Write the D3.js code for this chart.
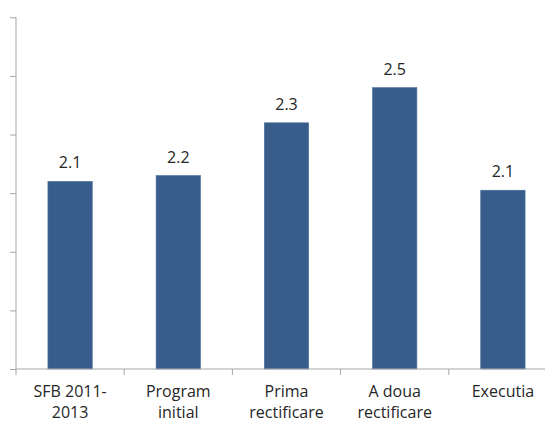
<!DOCTYPE html>
<html>
<head>
<meta charset="utf-8">
<script src="https://cdn.jsdelivr.net/npm/d3@7"></script>
<style>
  html, body { margin: 0; padding: 0; background: #fff; }
  svg { display: block; }
  text { font-family: "Open Sans", "Noto Sans", sans-serif; fill: #262626; }
</style>
</head>
<body>
<svg id="chart" width="545" height="423"></svg>
<script>
// Budget stages and their values
const categories = [
  ["SFB 2011-", "2013"],
  ["Program", "initial"],
  ["Prima", "rectificare"],
  ["A doua", "rectificare"],
  ["Executia"]
];
const values = [2.14, 2.16, 2.34, 2.46, 2.11];
const yTicks = [1.5, 1.7, 1.9, 2.1, 2.3, 2.5, 2.7];

const svg = d3.select("#chart");
const plot = { left: 16, right: 557, top: 17.3, bottom: 369 };

const x = d3.scaleBand()
  .domain(d3.range(categories.length))
  .range([plot.left, plot.right])
  .paddingInner(0.59)
  .paddingOuter(0.295);

const y = d3.scaleLinear()
  .domain([yTicks[0], yTicks[yTicks.length - 1]])
  .range([plot.bottom, plot.top]);

const axisColor = "#a6a6a6";

// Vertical axis: tick marks only, no labels
const yAxis = svg.append("g")
  .attr("transform", `translate(${plot.left},0)`)
  .call(d3.axisLeft(y).tickValues(yTicks).tickSize(6).tickFormat(""));
yAxis.selectAll("path, line").attr("stroke", axisColor);
yAxis.select(".domain").attr("d", `M0,${plot.top}V${plot.bottom}`);

// Bars
svg.append("g").selectAll("rect")
  .data(values)
  .join("rect")
  .attr("x", (d, i) => x(i))
  .attr("width", x.bandwidth())
  .attr("y", d => y(d))
  .attr("height", d => plot.bottom - y(d))
  .attr("fill", "#385d8a")
  .attr("stroke", "#4a6f9c")
  .attr("stroke-width", 0.6);

// Horizontal axis with category separators
const step = x.step();
const xAxis = svg.append("g");
xAxis.append("line")
  .attr("x1", plot.left).attr("x2", plot.right)
  .attr("y1", plot.bottom).attr("y2", plot.bottom)
  .attr("stroke", axisColor);
xAxis.selectAll("line.sep")
  .data(d3.range(categories.length + 1))
  .join("line")
  .attr("class", "sep")
  .attr("x1", i => plot.left + i * step)
  .attr("x2", i => plot.left + i * step)
  .attr("y1", plot.bottom)
  .attr("y2", plot.bottom + 6)
  .attr("stroke", axisColor);

// Category labels (two lines where needed)
const labels = svg.append("g").selectAll("text")
  .data(categories)
  .join("text")
  .attr("text-anchor", "middle")
  .attr("font-size", 16)
  .attr("x", (d, i) => x(i) + x.bandwidth() / 2)
  .attr("y", 397);
labels.selectAll("tspan")
  .data(d => d)
  .join("tspan")
  .attr("x", function () { return this.parentNode.getAttribute("x"); })
  .attr("dy", (d, j) => j === 0 ? 0 : 21)
  .text(d => d);

// Value labels above bars
const fmt = d3.format(".1f");
svg.append("g").selectAll("text")
  .data(values)
  .join("text")
  .attr("text-anchor", "middle")
  .attr("font-size", 16)
  .attr("x", (d, i) => x(i) + x.bandwidth() / 2)
  .attr("y", d => y(d) - 13)
  .text(d => fmt(d));
</script>
</body>
</html>
